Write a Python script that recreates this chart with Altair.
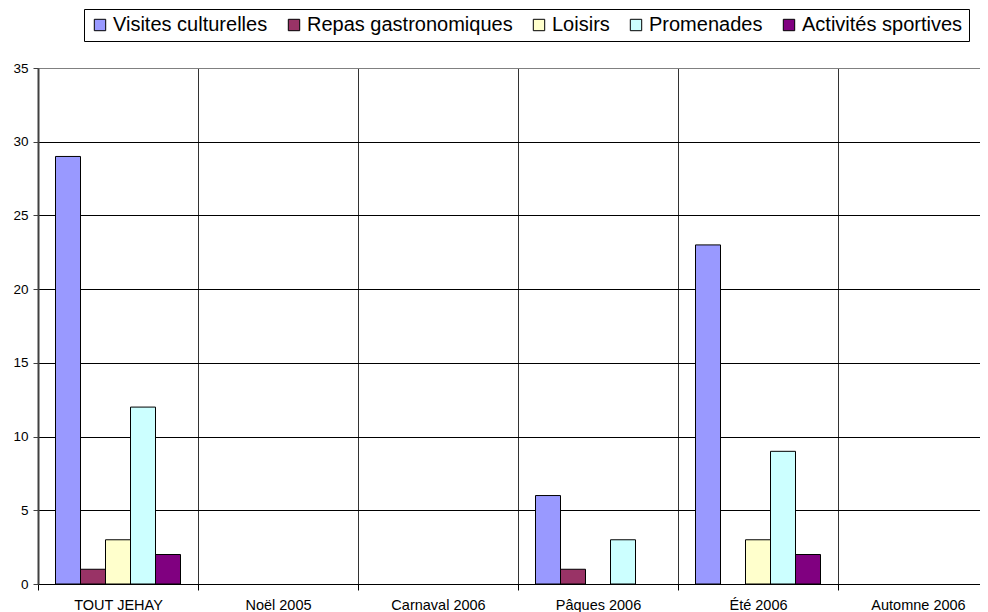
import altair as alt
import pandas as pd

categories = ["TOUT JEHAY", "Noël 2005", "Carnaval 2006", "Pâques 2006", "Été 2006", "Automne 2006"]
series = ["Visites culturelles", "Repas gastronomiques", "Loisirs", "Promenades", "Activités sportives"]
colors = ["#9999FF", "#993366", "#FFFFCC", "#CCFFFF", "#800080"]

visites = [29, 0, 0, 6, 23, 0]
repas = [1, 0, 0, 1, 0, 0]
loisirs = [3, 0, 0, 0, 3, 0]
promenades = [12, 0, 0, 3, 9, 0]
sportives = [2, 0, 0, 0, 2, 0]

y_ticks = [0, 5, 10, 15, 20, 25, 30, 35]

rows = []
for s, vals in zip(series, [visites, repas, loisirs, promenades, sportives]):
    for c, v in zip(categories, vals):
        rows.append({"cat": c, "series": s, "value": v})
df = pd.DataFrame(rows)

FONT = "Liberation Sans"

chart = (
    alt.Chart(df)
    .transform_filter("datum.value > 0")
    .mark_bar(stroke="black", strokeWidth=1)
    .encode(
        x=alt.X(
            "cat:N",
            sort=categories,
            scale=alt.Scale(domain=categories, range=[0, 960], paddingInner=0, paddingOuter=0),
            axis=alt.Axis(
                title=None,
                labelAngle=0,
                tickBand="extent",
                grid=True,
                gridColor="#333333",
                gridWidth=1,
                domainColor="black",
                domainWidth=1,
                tickColor="black",
                tickSize=6,
                labelPadding=8,
                labelFont=FONT,
                labelFontSize=14.5,
                labelColor="black",
            ),
        ),
        xOffset=alt.XOffset(
            "series:N",
            sort=series,
            scale=alt.Scale(domain=series, paddingInner=0, paddingOuter=0.7),
        ),
        y=alt.Y(
            "value:Q",
            scale=alt.Scale(domain=[0, 35], nice=False),
            axis=alt.Axis(
                title=None,
                values=y_ticks,
                grid=True,
                gridColor={
                    "condition": {"test": "datum.value === 35", "value": "#808080"},
                    "value": "black",
                },
                gridWidth=1,
                domainColor="#404040",
                domainWidth=2,
                tickColor="#404040",
                tickSize=5,
                labelPadding=5,
                labelFont=FONT,
                labelFontSize=13.5,
                labelColor="black",
            ),
        ),
        color=alt.Color(
            "series:N",
            sort=series,
            scale=alt.Scale(domain=series, range=colors),
            legend=alt.Legend(
                title=None,
                orient="none",
                direction="horizontal",
                legendX=46,
                legendY=-59,
                symbolType="square",
                symbolSize=130,
                symbolStrokeColor="black",
                symbolStrokeWidth=1,
                symbolOpacity=1,
                labelFont=FONT,
                labelFontSize=20,
                labelColor="black",
                labelOffset=3,
                columnPadding=16,
                padding=6,
                strokeColor="black",
                fillColor="white",
                labelLimit=400,
            ),
        ),
    )
    .properties(
        width=942,
        height=516,
        autosize=alt.AutoSizeParams(type="none"),
        padding={"left": 30, "top": 60, "right": 0, "bottom": 36},
    )
    .configure_view(stroke=None)
    .configure(background="white")
)

chart.save("out.html", embed_options={"renderer": "svg", "actions": False})
